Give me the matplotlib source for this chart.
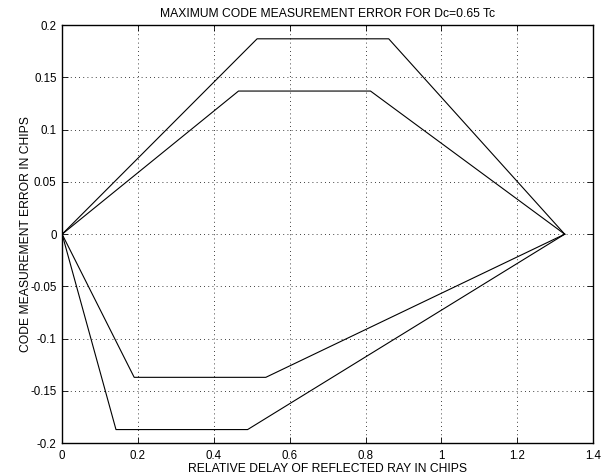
import matplotlib
matplotlib.use("Agg")
import matplotlib.pyplot as plt

plt.rcParams['font.family'] = ['Liberation Sans', 'DejaVu Sans']

# delay (chips) vs max code error (chips), four envelope curves
x_upper_outer = [0, 0.514, 0.861, 1.325]
y_upper_outer = [0, 0.187, 0.187, 0]
x_upper_inner = [0, 0.465, 0.813, 1.325]
y_upper_inner = [0, 0.137, 0.137, 0]
x_lower_inner = [0, 0.19, 0.537, 1.325]
y_lower_inner = [0, -0.137, -0.137, 0]
x_lower_outer = [0, 0.142, 0.489, 1.325]
y_lower_outer = [0, -0.187, -0.187, 0]

xticks = [0, 0.2, 0.4, 0.6, 0.8, 1, 1.2, 1.4]
xticklabels = ['0', '0.2', '0.4', '0.6', '0.8', '1', '1.2', '1.4']
yticks = [-0.2, -0.15, -0.1, -0.05, 0, 0.05, 0.1, 0.15, 0.2]
yticklabels = ['-0.2', '-0.15', '-0.1', '-0.05', '0', '0.05', '0.1', '0.15', '0.2']

fig = plt.figure(figsize=(6.09, 4.76), dpi=100)
ax = fig.add_axes([0.102, 0.069, 0.872, 0.878])

for xs, ys in [(x_upper_outer, y_upper_outer), (x_upper_inner, y_upper_inner),
               (x_lower_inner, y_lower_inner), (x_lower_outer, y_lower_outer)]:
    ax.plot(xs, ys, color='black', linewidth=0.8)

ax.set_xlim(0, 1.4)
ax.set_ylim(-0.2, 0.2)
ax.set_xticks(xticks)
ax.set_xticklabels(xticklabels)
ax.set_yticks(yticks)
ax.set_yticklabels(yticklabels)
ax.tick_params(direction='in', top=True, right=True, length=4, width=0.6,
               labelsize=8.3)
ax.tick_params(axis='x', pad=5)
ax.tick_params(axis='y', pad=4)
ax.grid(True, linestyle=(0, (1, 4)), color='black', linewidth=0.6)
for sp in ax.spines.values():
    sp.set_linewidth(1.0)

ax.set_title('MAXIMUM CODE MEASUREMENT ERROR FOR Dc=0.65 Tc', fontsize=8.7, pad=6)
ax.set_xlabel('RELATIVE DELAY OF REFLECTED RAY IN CHIPS', fontsize=8.7, labelpad=1)
ax.set_ylabel('CODE MEASUREMENT ERROR IN CHIPS', fontsize=8.7)
ax.yaxis.set_label_coords(-0.057, 0.5)

fig.savefig('out.png', dpi=100)
